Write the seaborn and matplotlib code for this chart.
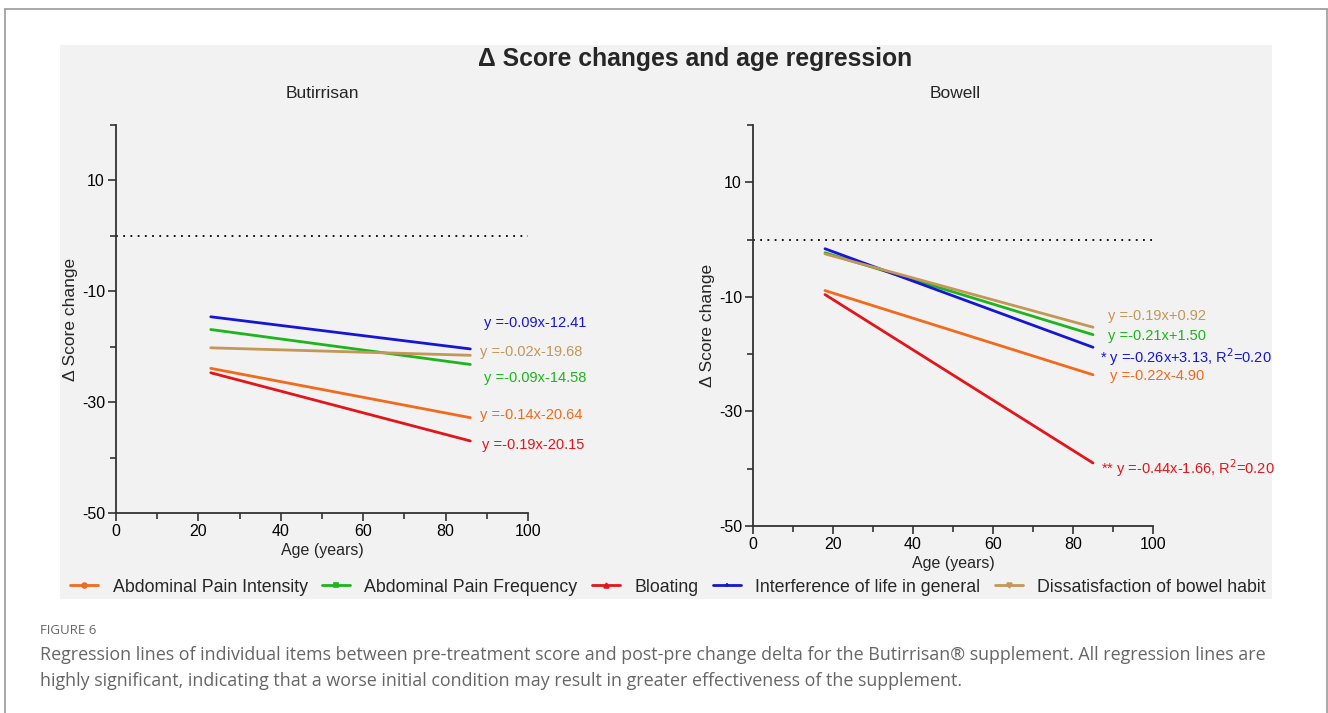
"""
Delta score change vs age regression lines for the two supplements.
"""

import pandas as pd
import matplotlib.pyplot as plt
from matplotlib.lines import Line2D
from matplotlib.patches import Rectangle
import seaborn as sns

# Items and regression line end points
items = ['Abdominal Pain Intensity', 'Abdominal Pain Frequency', 'Bloating',
         'Interference of life in general', 'Dissatisfaction of bowel habit']

butirrisan_age = [23, 86]
butirrisan_start = [-23.9, -16.9, -24.7, -14.6, -20.2]
butirrisan_end = [-32.8, -23.2, -37.0, -20.4, -21.55]
butirrisan_eq = ['y =-0.14x-20.64', 'y =-0.09x-14.58', 'y =-0.19x-20.15',
                 'y =-0.09x-12.41', 'y =-0.02x-19.68']

bowell_age = [18, 85]
bowell_start = [-8.9, -2.3, -9.6, -1.6, -2.5]
bowell_end = [-23.6, -16.6, -39.0, -18.8, -15.3]
bowell_eq = ['y =-0.22x-4.90', 'y =-0.21x+1.50', '** y =-0.44x-1.66, R$^2$=0.20',
             '* y =-0.26x+3.13, R$^2$=0.20', 'y =-0.19x+0.92']

colors = ['#F26A1B', '#1DB51D', '#E3151B', '#1616D4', '#C29757']
markers = ['o', 's', '^', '+', 'v']

sns.set_style("ticks")
plt.rcParams['font.family'] = ['Liberation Sans', 'DejaVu Sans']
plt.rcParams['axes.edgecolor'] = '#333333'
plt.rcParams['axes.unicode_minus'] = False

W, H = 1328, 713
fig = plt.figure(figsize=(W / 100, H / 100), dpi=100)
fig.patch.set_facecolor('white')


def fx(px):
    return px / W


def fy(py):
    return 1 - py / H


# grey panel behind the chart and thin outer frame
fig.add_artist(Rectangle((fx(60), fy(599)), fx(1272) - fx(60), fy(45) - fy(599),
                         transform=fig.transFigure, facecolor='#f2f2f2',
                         edgecolor='none', zorder=0))
frame = dict(transform=fig.transFigure, color='#9a9a9a', lw=1.2, zorder=1)
fig.add_artist(Line2D([fx(4.5), fx(4.5)], [0, fy(9)], **frame))
fig.add_artist(Line2D([fx(4.5), fx(1327)], [fy(9), fy(9)], **frame))
fig.add_artist(Line2D([fx(1327), fx(1327)], [0, fy(9)], **frame))


def to_long(ages, starts, ends):
    rows = []
    for item, s, e in zip(items, starts, ends):
        rows.append({'Age': ages[0], 'Score': s, 'Item': item})
        rows.append({'Age': ages[1], 'Score': e, 'Item': item})
    return pd.DataFrame(rows)


def draw_panel(rect, ages, starts, ends, eqs, label_pos):
    ax = fig.add_axes(rect)
    ax.set_facecolor('none')
    df = to_long(ages, starts, ends)
    sns.lineplot(data=df, x='Age', y='Score', hue='Item', palette=colors,
                 hue_order=items, linewidth=2, legend=False, ax=ax)
    ax.hlines(0, 0, 100, colors='black', linestyles=(0, (1, 3)), lw=1.3)
    ax.set_xlim(0, 100)
    ax.set_ylim(-50, 20)
    ax.set_xticks([0, 20, 40, 60, 80, 100])
    ax.set_xticks([10, 30, 50, 70, 90], minor=True)
    ax.set_yticks([-50, -30, -10, 10])
    ax.set_yticks([-40, -20, 0, 20], minor=True)
    ax.tick_params(which='major', length=6, width=1.2, labelsize=11.5,
                   colors='#333333', labelcolor='black', pad=2)
    ax.tick_params(which='minor', length=4, width=1.2, colors='#333333')
    for side in ['top', 'right']:
        ax.spines[side].set_visible(False)
    for side in ['left', 'bottom']:
        ax.spines[side].set_linewidth(1.3)
    ax.set_xlabel('Age (years)', fontsize=11.5, labelpad=2.5)
    ax.set_ylabel('Δ Score change', fontsize=12.5, labelpad=3)
    for eq, c, (x, y) in zip(eqs, colors, label_pos):
        ax.text(x, y, eq, color=c, fontsize=10.5, ha='left', va='center')
    return ax


left_rect = [fx(116), fy(513), fx(528) - fx(116), fy(125) - fy(513)]
right_rect = [fx(753), fy(526), fx(1153) - fx(753), fy(125) - fy(526)]

draw_panel(left_rect, butirrisan_age, butirrisan_start, butirrisan_end, butirrisan_eq,
           [(88.3, -32.3), (89.3, -25.7), (88.8, -37.7), (89.3, -15.8), (88.3, -21.0)])
draw_panel(right_rect, bowell_age, bowell_start, bowell_end, bowell_eq,
           [(89.2, -23.9), (88.7, -16.9), (87.0, -39.9), (86.7, -20.5), (88.7, -13.4)])

fig.text(fx(695), fy(59), 'Δ Score changes and age regression', fontsize=17.8,
         fontweight='bold', ha='center', va='center')
fig.text(fx(322), fy(93), 'Butirrisan', fontsize=12.5, ha='center', va='center')
fig.text(fx(955), fy(93), 'Bowell', fontsize=12.5, ha='center', va='center')

handles = [Line2D([], [], color=c, lw=2, marker=m, markersize=3.5, mew=1.2)
           for c, m in zip(colors, markers)]
fig.legend(handles, items, loc='center', bbox_to_anchor=(fx(668), fy(587)),
           ncol=5, frameon=False, fontsize=12.8, handlelength=1.6,
           handletextpad=0.8, columnspacing=0.8)

cap = dict(family=['Open Sans', 'DejaVu Sans'], color='#666666', ha='left', va='center')
fig.text(fx(40), fy(631), 'FIGURE 6', fontsize=9.5, **cap)
fig.text(fx(40), fy(655), 'Regression lines of individual items between pre-treatment score '
         'and post-pre change delta for the Butirrisan® supplement. All regression lines are',
         fontsize=12.9, **cap)
fig.text(fx(40), fy(681), 'highly significant, indicating that a worse initial condition may '
         'result in greater effectiveness of the supplement.', fontsize=12.9, **cap)

fig.savefig('out.png', dpi=100)
